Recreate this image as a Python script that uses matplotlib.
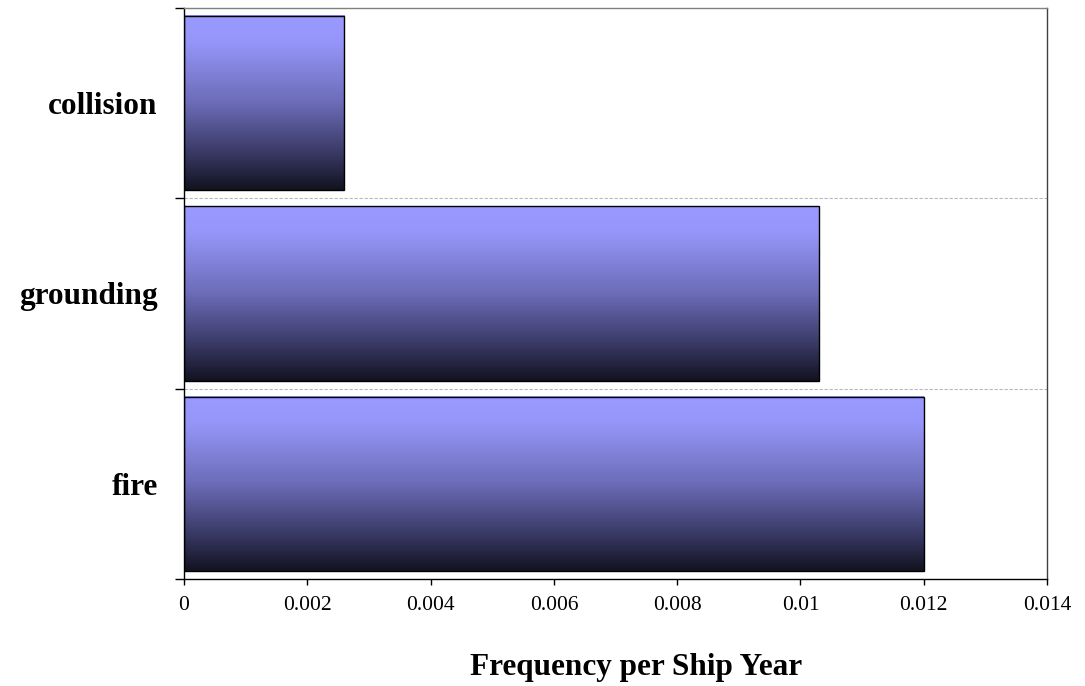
import numpy as np
import matplotlib
matplotlib.use("Agg")
import matplotlib.pyplot as plt
from matplotlib.colors import LinearSegmentedColormap

# Accident frequencies per ship year
categories = ["fire", "grounding", "collision"]
frequencies = [0.0120, 0.0103, 0.0026]
xtick_values = [0, 0.002, 0.004, 0.006, 0.008, 0.010, 0.012, 0.014]
xtick_labels = ["0", "0.002", "0.004", "0.006", "0.008", "0.01", "0.012", "0.014"]
xlabel = "Frequency per Ship Year"

plt.rcParams["font.family"] = ["Liberation Serif", "DejaVu Serif"]

fig = plt.figure(figsize=(10.85, 6.86), dpi=100)
ax = fig.add_axes([0.1696, 0.156, 0.7954, 0.8324])

# vertical gradient: light periwinkle at the top fading to near black
grad = LinearSegmentedColormap.from_list(
    "bar_grad",
    [(0.00, (153/255, 153/255, 255/255)),
     (0.15, (150/255, 150/255, 250/255)),
     (0.50, (108/255, 108/255, 184/255)),
     (0.80, (55/255, 55/255, 98/255)),
     (1.00, (18/255, 18/255, 32/255))])
gradient = np.linspace(0, 1, 256).reshape(-1, 1)

positions = np.arange(len(categories)) + 0.5
bars = ax.barh(positions, frequencies, height=0.915, facecolor="none",
               edgecolor="black", linewidth=1.0, zorder=3)
for bar in bars:
    x0, y0 = bar.get_x(), bar.get_y()
    w, h = bar.get_width(), bar.get_height()
    ax.imshow(gradient, cmap=grad, aspect="auto",
              extent=(x0, x0 + w, y0, y0 + h), origin="upper",
              interpolation="bilinear", zorder=2)

ax.set_xlim(0, 0.014)
ax.set_ylim(0, len(categories))

# dashed separators between categories
for yb in range(1, len(categories)):
    ax.axhline(yb, color="#b8b8b8", linestyle=(0, (3, 1.5)), linewidth=0.8, zorder=1)

ax.set_xticks(xtick_values)
ax.set_xticklabels(xtick_labels, fontsize=15.5)
ax.tick_params(axis="x", direction="out", length=4.5, width=1, pad=8, colors="black")

ax.set_yticks(np.arange(len(categories) + 1))
ax.set_yticklabels([])
ax.tick_params(axis="y", which="major", direction="out", length=6.5, width=1)
ax.set_yticks(positions, minor=True)
ax.set_yticklabels(categories, minor=True, fontsize=22.5, fontweight="bold")
ax.tick_params(axis="y", which="minor", length=0, pad=19)

ax.spines["left"].set_color("black")
ax.spines["bottom"].set_color("black")
ax.spines["top"].set_color("#808080")
ax.spines["right"].set_color("#404040")
for s in ax.spines.values():
    s.set_linewidth(1.0)

fig.text(0.5866, 0.027, xlabel, ha="center", va="center",
         fontsize=22.5, fontweight="bold")

fig.savefig("out.png", dpi=100, facecolor="white")
